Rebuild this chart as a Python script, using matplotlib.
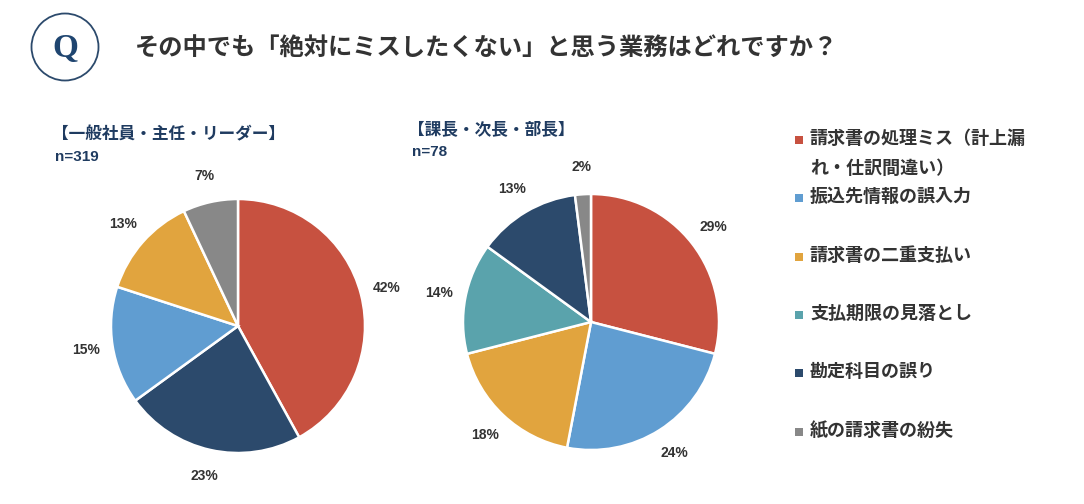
import matplotlib
matplotlib.use("Agg")
from matplotlib import pyplot as plt
from matplotlib.patches import Circle, Rectangle

plt.rcParams['font.family'] = ['Noto Sans CJK JP', 'DejaVu Sans']

W, H = 1084, 504

# --- données ---
categories = ['請求書の処理ミス（計上漏れ・仕訳間違い）', '振込先情報の誤入力', '請求書の二重支払い',
              '支払期限の見落とし', '勘定科目の誤り', '紙の請求書の紛失']
legend_text = ['請求書の処理ミス（計上漏\nれ・仕訳間違い）', '振込先情報の誤入力', '請求書の二重支払い',
               '支払期限の見落とし', '勘定科目の誤り', '紙の請求書の紛失']
colors = ['#C75140', '#609DD1', '#E1A43E', '#5AA3AC', '#2C4A6C', '#888888']

staff_cats = ['請求書の処理ミス（計上漏れ・仕訳間違い）', '勘定科目の誤り', '振込先情報の誤入力',
              '請求書の二重支払い', '紙の請求書の紛失']
staff_vals = [42, 23, 15, 13, 7]
staff_title = '【一般社員・主任・リーダー】'
staff_n = 'n=319'

mgr_cats = ['請求書の処理ミス（計上漏れ・仕訳間違い）', '振込先情報の誤入力', '請求書の二重支払い',
            '支払期限の見落とし', '勘定科目の誤り', '紙の請求書の紛失']
mgr_vals = [29, 24, 18, 14, 13, 2]
mgr_title = '【課長・次長・部長】'
mgr_n = 'n=78'

title = 'その中でも「絶対にミスしたくない」と思う業務はどれですか？'
color_of = dict(zip(categories, colors))
navy = '#1F3B60'
txt = '#333333'

fig = plt.figure(figsize=(W / 100, H / 100), dpi=100)


def fx(px):
    return px / W


def fy(py):
    return 1 - py / H


def pie_at(cx, cy, r, cats, vals):
    k = 1.5
    ax = fig.add_axes([fx(cx - k * r), fy(cy + k * r), 2 * k * r / W, 2 * k * r / H])
    ax.pie(vals, colors=[color_of[c] for c in cats], startangle=90, counterclock=False,
           radius=1, autopct='%d%%', pctdistance=1.21,
           wedgeprops=dict(edgecolor='white', linewidth=1.8),
           textprops=dict(fontsize=10, fontweight='bold', color=txt, family='Liberation Sans'))
    ax.set_xlim(-k, k)
    ax.set_ylim(-k, k)
    ax.axis('off')
    return ax


# en-tête
bg = fig.add_axes([0, 0, 1, 1])
bg.set_xlim(0, W)
bg.set_ylim(H, 0)
bg.axis('off')
bg.add_patch(Circle((65, 47), 33.5, fill=False, edgecolor='#2C4A6C', linewidth=1.3))
bg.text(65, 49, 'Q', fontsize=24, fontweight='bold', color='#1F4570', family='Liberation Serif',
        ha='center', va='center')
bg.text(135, 48, title, fontsize=17.5, fontweight='bold', color=txt, ha='left', va='center')

bg.text(52, 134, staff_title, fontsize=12, fontweight='bold', color=navy, ha='left', va='center')
bg.text(55, 157, staff_n, fontsize=11, fontweight='bold', color=navy, ha='left', va='center',
        family='Liberation Sans')
bg.text(408, 129, mgr_title, fontsize=12, fontweight='bold', color=navy, ha='left', va='center')
bg.text(412, 152, mgr_n, fontsize=11, fontweight='bold', color=navy, ha='left', va='center',
        family='Liberation Sans')

# légende
ys = [140, 198, 257, 315, 373, 432]
for lab, col, y in zip(legend_text, colors, ys):
    bg.add_patch(Rectangle((795, y - 4), 8, 8, facecolor=col, edgecolor='none'))
    bg.text(810, y - 11, lab, fontsize=13, fontweight='bold', color=txt, ha='left', va='top',
            linespacing=1.75)

pie_at(238, 326, 127, staff_cats, staff_vals)
pie_at(591, 322, 128, mgr_cats, mgr_vals)

fig.savefig('out.png', dpi=100)
